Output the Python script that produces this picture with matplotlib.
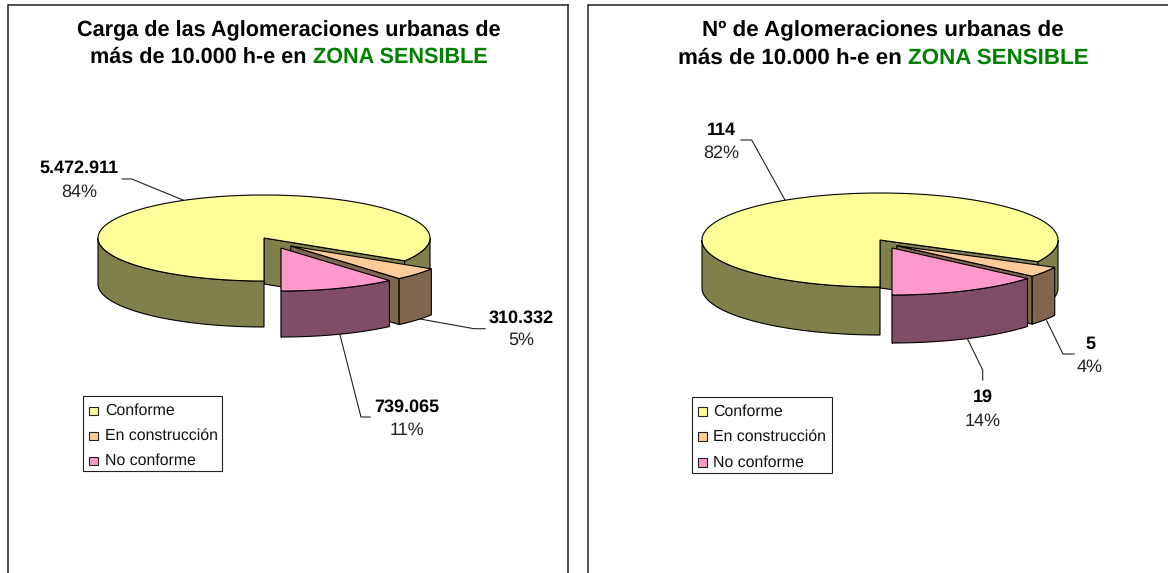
import numpy as np
import matplotlib
matplotlib.use("Agg")
import matplotlib.pyplot as plt
from matplotlib.patches import Polygon, Rectangle

# ---------- data ----------
categories = ["Conforme", "En construcción", "No conforme"]
carga_values = [5472911, 310332, 739065]
carga_pct = ["84%", "5%", "11%"]
numero_values = [114, 5, 19]
numero_pct = ["82%", "4%", "14%"]
title_left = "Carga de las Aglomeraciones urbanas de"
title_right = "Nº de Aglomeraciones urbanas de"
title_line2 = "más de 10.000 h-e en"
title_green = "ZONA SENSIBLE"

# ---------- style ----------
colors = ["#FFFF99", "#FFCC99", "#FF99CC"]
shades = ["#80804D", "#80664D", "#804D66"]
plt.rcParams["font.family"] = ["Liberation Sans", "DejaVu Sans"]
plt.rcParams["text.hinting"] = "no_hinting"
W, H = 1168, 573
fig = plt.figure(figsize=(W / 100, H / 100), dpi=100)
ax = fig.add_axes([0, 0, 1, 1])
ax.set_xlim(0, W)
ax.set_ylim(H, 0)
ax.axis("off")
LW = 0.8


def fmt(v):
    return f"{v:,}".replace(",", ".")


def draw_pie(cx, cy, rx, ry, depth, values, offsets):
    total = sum(values)
    a = -90.0
    for i, v in enumerate(values):
        b = a - 360.0 * v / total
        ox, oy = offsets[i]
        px, py = cx + ox, cy + oy

        def pt(t, d=0):
            r = np.radians(t)
            return px + rx * np.cos(r), py - ry * np.sin(r) + d

        # cut wall at clockwise end of the slice
        ex, ey = pt(b)
        ax.add_patch(Polygon([(px, py), (ex, ey), (ex, ey + depth), (px, py + depth)],
                             fc=shades[i], ec="black", lw=LW, zorder=2 + i * 3))
        # outer rim: only the part in the lower half of the ellipse
        for lo, hi in [(-180, 0), (-540, -360)]:
            s, e = max(b, lo), min(a, hi)
            if e > s:
                ts = np.linspace(s, e, 80)
                top = [pt(t) for t in ts]
                bot = [pt(t, depth) for t in ts[::-1]]
                ax.add_patch(Polygon(top + bot, fc=shades[i], ec="black", lw=LW,
                                     zorder=3 + i * 3))
        # top face
        ts = np.linspace(b, a, 240)
        ax.add_patch(Polygon([(px, py)] + [pt(t) for t in ts], fc=colors[i], ec="black",
                             lw=LW, zorder=4 + i * 3))
        a = b


def draw_frame(x0, x1):
    xs = [x0, x0, x1] if x1 is not None else [x0, x0, W + 5]
    ax.plot(xs, [H + 5, 5.3, 5.3], color="#222222", lw=1.1, solid_joinstyle="miter", zorder=1)
    if x1 is not None:
        ax.plot([x1, x1], [5.3, H + 5], color="#222222", lw=1.1, zorder=1)


def draw_title(cx, y1, y2, line1, fs):
    ax.text(cx, y1, line1, ha="center", va="center", fontsize=fs, fontweight="bold")
    r = fig.canvas.get_renderer()
    t1 = ax.text(0, y2, title_line2, ha="left", va="center", fontsize=fs, fontweight="bold")
    t2 = ax.text(0, y2, title_green, ha="left", va="center", fontsize=fs,
                 fontweight="bold", color="#008000")
    w1 = t1.get_window_extent(r).width + fs * 0.278 * 100 / 72
    w2 = t2.get_window_extent(r).width
    x = cx - (w1 + w2) / 2
    t1.set_x(x)
    t2.set_x(x + w1)


def draw_legend(x0, y0, x1, y1, sx0, sx1, tx, ys):
    ax.add_patch(Rectangle((x0, y0), x1 - x0, y1 - y0, fc="white", ec="#222222", lw=0.8, zorder=20))
    for c, name, y in zip(colors, categories, ys):
        ax.add_patch(Rectangle((sx0, y - 4.3), sx1 - sx0, 8.6, fc=c, ec="#222222", lw=0.8, zorder=21))
        ax.text(tx, y, name, ha="left", va="center", fontsize=LEG_FS, color="#111111", zorder=21)


def draw_label(value, pct, x, y, y2, line):
    ax.text(x, y, value, ha="center", va="center", fontsize=LBL_FS, fontweight="bold", color="black")
    ax.text(x, y2, pct, ha="center", va="center", fontsize=LBL_FS, color="#222222")
    ax.plot(*zip(*line), color="#222222", lw=0.8, zorder=1.5)


LBL_FS = 13.0
LEG_FS = 11.4

draw_frame(7.5, 568)
draw_frame(588, None)

draw_title(289, 30.5, 57, title_left, 15.6)
draw_title(883, 30.5, 58.5, title_right, 16.1)

draw_pie(264, 238, 166, 43, 46, carga_values, [(0, 0), (26.7, 8), (17, 10)])
draw_pie(880, 240, 178, 47, 48, numero_values, [(0, 0), (16.7, 5.7), (12, 8)])

draw_legend(83.3, 396, 222.3, 471.3, 89.3, 98, 104.7, [411, 436, 461])
draw_legend(692.3, 397.3, 831.7, 472.7, 698.3, 707, 713.3, [411.7, 436.7, 462.3])

draw_label(fmt(carga_values[0]), carga_pct[0], 79, 167.7, 191.7, [(183, 200), (131.7, 179), (122, 179)])
draw_label(fmt(carga_values[1]), carga_pct[1], 521.6, 318, 340.6, [(420, 319), (474, 328.7), (485, 328.7)])
draw_label(fmt(carga_values[2]), carga_pct[2], 406.7, 406.7, 430, [(340, 335), (361, 417), (370, 417)])
draw_label(fmt(numero_values[0]), numero_pct[0], 721.7, 130.7, 153, [(785, 200), (751.7, 140), (741, 140)])
draw_label(fmt(numero_values[1]), numero_pct[1], 1090, 344, 367, [(1046.7, 320.7), (1063, 354), (1074, 354)])
draw_label(fmt(numero_values[2]), numero_pct[2], 983, 397, 421.7, [(967, 338), (982.7, 370), (982.7, 380)])

fig.savefig("out.png", dpi=100)
